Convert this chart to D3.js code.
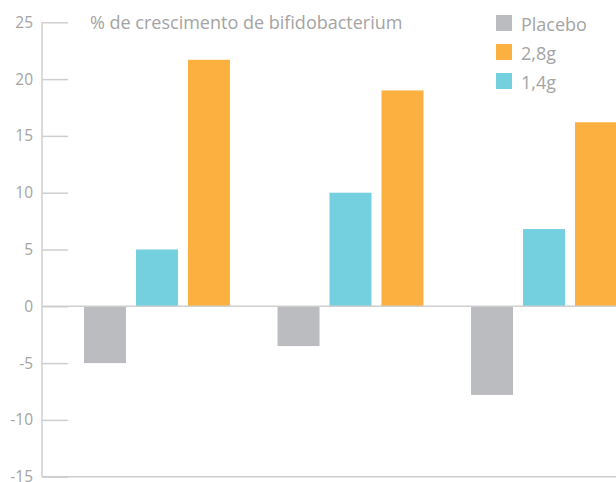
<!DOCTYPE html>
<html>
<head>
<meta charset="utf-8">
<script src="https://cdn.jsdelivr.net/npm/d3@7"></script>
<style>
  body { margin: 0; background: #fff; }
  svg { display: block; font-family: "Open Sans", sans-serif; }
</style>
</head>
<body>
<svg width="616" height="482"></svg>
<script>
// data
const groups = ["Grupo 1", "Grupo 2", "Grupo 3"];
const series = ["Placebo", "1,4g", "2,8g"];
const legendOrder = ["Placebo", "2,8g", "1,4g"];
const placebo = [-5, -3.5, -7.8];
const dose14 = [5, 10, 6.8];
const dose28 = [21.7, 19, 16.2];
const yTicks = [-15, -10, -5, 0, 5, 10, 15, 20, 25];
const title = "% de crescimento de bifidobacterium";

const colors = {"Placebo": "#bbbcc0", "1,4g": "#74cfdf", "2,8g": "#fbb040"};
const values = {"Placebo": placebo, "1,4g": dose14, "2,8g": dose28};

const svg = d3.select("svg");
const axisLeftX = 42;

const y = d3.scaleLinear()
  .domain([-15, 25])
  .range([476.7, 22.3]);

const x0 = d3.scaleBand()
  .domain(groups)
  .range([axisLeftX, 659])
  .paddingInner(0.246)
  .paddingOuter(0.217);

const x1 = d3.scaleBand()
  .domain(series)
  .range([0, x0.bandwidth()])
  .paddingInner(10 / 52);

// y axis
const yAxis = d3.axisRight(y)
  .tickValues(yTicks)
  .tickSize(26)
  .tickFormat("");
const gy = svg.append("g")
  .attr("transform", `translate(${axisLeftX},0)`)
  .call(yAxis);
gy.select(".domain").remove();
gy.selectAll(".tick line").attr("stroke", "#cfcfcf").attr("stroke-width", 1.5);

svg.append("line")
  .attr("x1", axisLeftX).attr("x2", axisLeftX)
  .attr("y1", y(25)).attr("y2", y(-15))
  .attr("stroke", "#cfcfcf").attr("stroke-width", 1.5);

svg.selectAll(".ylabel")
  .data(yTicks)
  .enter().append("text")
  .attr("class", "ylabel")
  .attr("x", 33)
  .attr("y", d => y(d))
  .attr("dy", "0.35em")
  .attr("text-anchor", "end")
  .attr("font-size", "15.5px")
  .attr("fill", "#a4a4a4")
  .text(d => d);

// bars
const barData = [];
groups.forEach((g, i) => {
  series.forEach(s => barData.push({group: g, key: s, value: values[s][i]}));
});

svg.append("g").selectAll("rect")
  .data(barData)
  .enter().append("rect")
  .attr("x", d => x0(d.group) + x1(d.key))
  .attr("width", x1.bandwidth())
  .attr("y", d => y(Math.max(0, d.value)))
  .attr("height", d => Math.abs(y(d.value) - y(0)))
  .attr("fill", d => colors[d.key]);

// zero line and bottom line
[0, -15].forEach(v => {
  svg.append("line")
    .attr("x1", axisLeftX).attr("x2", 616)
    .attr("y1", y(v)).attr("y2", y(v))
    .attr("stroke", "#cfcfcf").attr("stroke-width", 1.5);
});

// title
svg.append("text")
  .attr("x", 90)
  .attr("y", 29)
  .attr("font-size", "18px")
  .attr("fill", "#a4a4a4")
  .text(title);

// legend
const legend = svg.append("g").selectAll("g")
  .data(legendOrder)
  .enter().append("g")
  .attr("transform", (d, i) => `translate(496,${15 + i * 29})`);

legend.append("rect")
  .attr("width", 16).attr("height", 16)
  .attr("fill", d => colors[d]);

legend.append("text")
  .attr("x", 25)
  .attr("y", 16)
  .attr("font-size", "18px")
  .attr("fill", "#a4a4a4")
  .text(d => d);
</script>
</body>
</html>
